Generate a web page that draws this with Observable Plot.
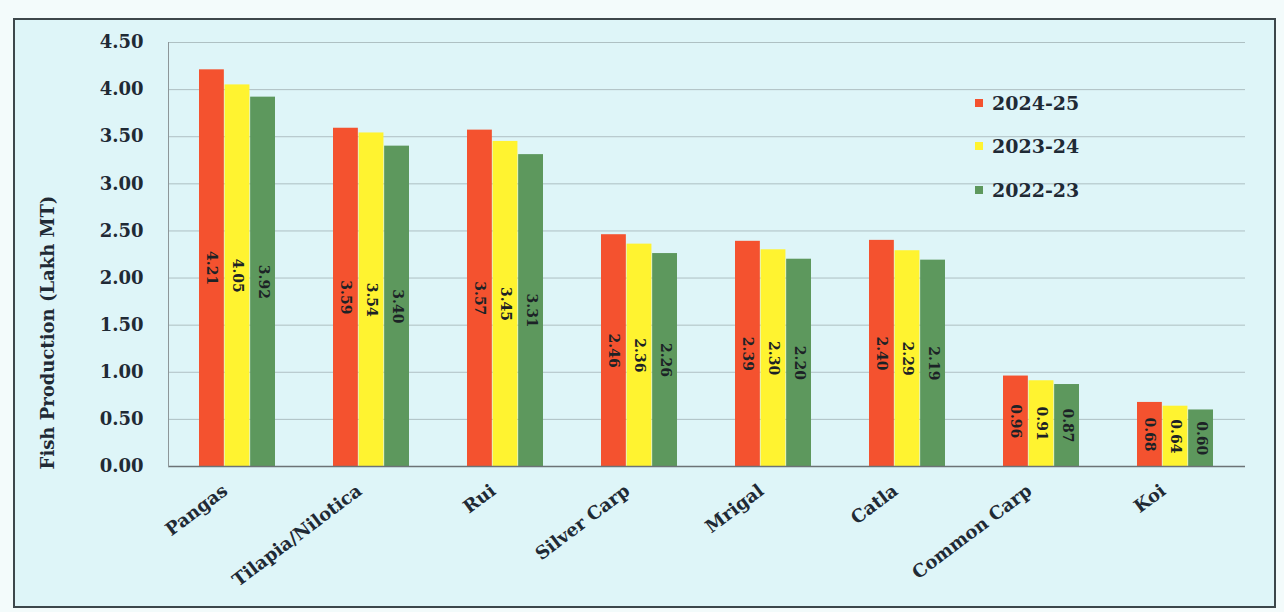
<!DOCTYPE html>
<html><head><meta charset="utf-8">
<script src="https://cdn.jsdelivr.net/npm/d3@7"></script>
<script src="https://cdn.jsdelivr.net/npm/@observablehq/plot@0.6"></script>
<style>
html,body{margin:0;padding:0;background:#f3fbfb;}
#wrap{position:relative;width:1284px;height:612px;overflow:hidden;}
#frame{position:absolute;left:13px;top:18px;width:1263px;height:590px;border:2px solid #3d474b;background:#def5f8;box-sizing:border-box;}
#chart{position:absolute;left:0;top:0;}
.leg{position:absolute;left:975px;height:20px;display:flex;align-items:center;font:bold 19px "DejaVu Serif";color:#1f2a35;}
.leg span.sw{display:inline-block;width:8px;height:8px;margin-right:9px;}
</style></head>
<body><div id="wrap"><div id="frame"></div><div id="chart"></div></div>
<script>
const species = ["Pangas","Tilapia/Nilotica","Rui","Silver Carp","Mrigal","Catla","Common Carp","Koi"];
const years = ["2024-25","2023-24","2022-23"];
const v2024 = [4.21,3.59,3.57,2.46,2.39,2.40,0.96,0.68];
const v2023 = [4.05,3.54,3.45,2.36,2.30,2.29,0.91,0.64];
const v2022 = [3.92,3.40,3.31,2.26,2.20,2.19,0.87,0.60];
const colors = ["#f4522f","#fff330","#5d985d"];
const yTicks = [0,0.5,1,1.5,2,2.5,3,3.5,4,4.5];
const yLabel = "Fish Production (Lakh MT)";

const series = [v2024, v2023, v2022];
const W = 1284, H = 612, mL = 168, mR = 39, mT = 42, mB = 146;
const pIn = 0.43, pOut = pIn / 2;
const step = (W - mL - mR) / (species.length - pIn + 2 * pOut);
const bw = step * (1 - pIn);
const third = bw / 3;

const marks = [
  Plot.gridY(yTicks, {stroke: "#9aa9ad", strokeOpacity: 0.7}),
  Plot.axisY(yTicks, {tickSize: 0, tickPadding: 25, tickFormat: d => d.toFixed(2), label: null, fontSize: 18}),
  Plot.axisX({anchor: "bottom", tickSize: 0, tickRotate: -37, tickPadding: 22, dx: -12, label: null, fontSize: 18})
];
series.forEach((vals, j) => {
  const rows = species.map((s, i) => ({species: s, year: years[j], value: vals[i]}));
  marks.push(Plot.barY(rows, {x: "species", y: "value", fill: "year", insetLeft: j * third, insetRight: (2 - j) * third}));
  marks.push(Plot.text(rows, {x: "species", y: d => d.value / 2, dx: (j - 1) * third, text: d => d.value.toFixed(2), rotate: 90, fontSize: 14, fill: "#1c2226"}));
});
marks.push(
  Plot.ruleY([0], {stroke: "#6c7376", strokeWidth: 1.5}),
  Plot.frame({anchor: "left", stroke: "#8d9699"}),
  Plot.text([yLabel], {frameAnchor: "left", textAnchor: "middle", dx: -120, dy: 78, rotate: -90, fontSize: 18, fill: "#1f2a35"})
);

const plot = Plot.plot({
  width: W, height: H,
  marginLeft: mL, marginRight: mR, marginTop: mT, marginBottom: mB,
  style: {background: "transparent", fontFamily: "DejaVu Serif", fontWeight: "bold", fontSize: "18px", color: "#1f2a35", overflow: "visible"},
  x: {domain: species, paddingInner: pIn, paddingOuter: pOut, label: null},
  y: {domain: [0, 4.5], label: null},
  color: {domain: years, range: colors},
  marks
});
document.getElementById("chart").appendChild(plot);

const tops = [103, 146, 190];
years.forEach((y, i) => {
  const d = document.createElement("div");
  d.className = "leg";
  d.style.top = (tops[i] - 10) + "px";
  d.innerHTML = `<span class="sw" style="background:${colors[i]}"></span>${y}`;
  document.getElementById("wrap").appendChild(d);
});
</script></body></html>
